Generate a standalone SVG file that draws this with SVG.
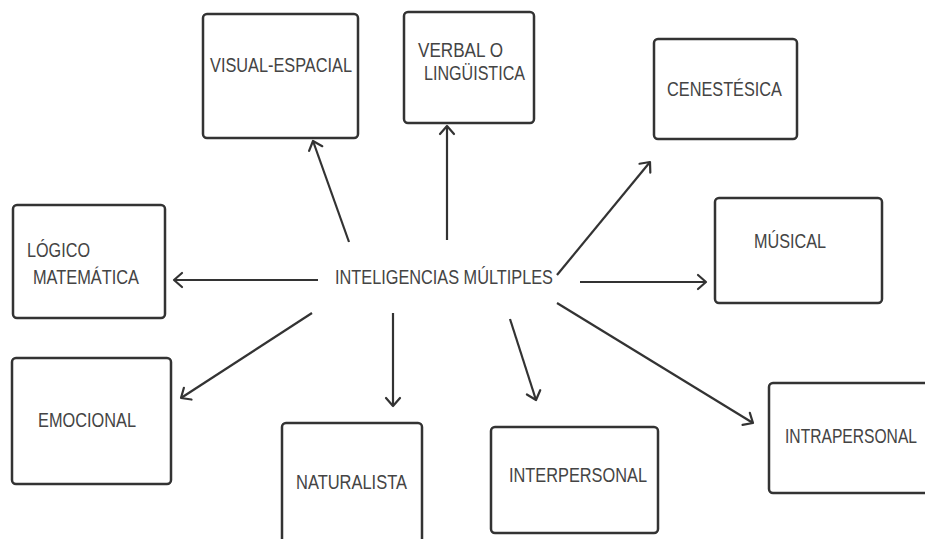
<svg xmlns="http://www.w3.org/2000/svg" width="925" height="539" viewBox="0 0 925 539">
<defs>
<marker id="arr" markerUnits="userSpaceOnUse" markerWidth="16" markerHeight="16" refX="11" refY="7" orient="auto" overflow="visible">
<path d="M3,0 L11,7 L3,14" fill="none" stroke="#333" stroke-width="2.2" stroke-linecap="round" stroke-linejoin="round"/>
</marker>
<style>
.box{fill:#fff;stroke:#333;stroke-width:2.5}
.t{font-family:"Liberation Sans",Arial,sans-serif;font-size:19.5px;fill:#444}
.c{stroke:#333;stroke-width:2.2;fill:none;marker-end:url(#arr)}
</style>
</defs>
<rect width="925" height="539" fill="#fff"/>
<g id="connectors">
<line class="c" x1="349" y1="242" x2="313" y2="141"/>
<line class="c" x1="447" y1="240" x2="447" y2="126"/>
<line class="c" x1="557" y1="275" x2="650" y2="162"/>
<line class="c" x1="580" y1="282" x2="706" y2="282"/>
<line class="c" x1="318" y1="280" x2="174" y2="280"/>
<line class="c" x1="312" y1="313" x2="181" y2="398"/>
<line class="c" x1="393" y1="313" x2="393" y2="406"/>
<line class="c" x1="510" y1="319" x2="536" y2="400"/>
<line class="c" x1="557" y1="303" x2="753" y2="423"/>
</g>
<g id="center">
<text class="t" x="335" y="284" textLength="218" lengthAdjust="spacingAndGlyphs">INTELIGENCIAS MÚLTIPLES</text>
</g>
<g id="visual">
<rect class="box" x="203" y="14" width="155" height="124" rx="4"/>
<text class="t" x="210" y="72" textLength="142" lengthAdjust="spacingAndGlyphs">VISUAL-ESPACIAL</text>
</g>
<g id="verbal">
<rect class="box" x="404" y="12" width="130" height="111" rx="4"/>
<text class="t" x="418" y="57" textLength="85" lengthAdjust="spacingAndGlyphs">VERBAL O</text>
<text class="t" x="424" y="80" textLength="101" lengthAdjust="spacingAndGlyphs">LINGÜISTICA</text>
</g>
<g id="cenestesica">
<rect class="box" x="654" y="39" width="143" height="100" rx="4"/>
<text class="t" x="667" y="96" textLength="115" lengthAdjust="spacingAndGlyphs">CENESTÉSICA</text>
</g>
<g id="musical">
<rect class="box" x="715" y="198" width="167" height="105" rx="4"/>
<text class="t" x="754" y="248" textLength="72" lengthAdjust="spacingAndGlyphs">MÚSICAL</text>
</g>
<g id="logico">
<rect class="box" x="13" y="205" width="152" height="113" rx="4"/>
<text class="t" x="27" y="257" textLength="63" lengthAdjust="spacingAndGlyphs">LÓGICO</text>
<text class="t" x="33" y="284" textLength="106" lengthAdjust="spacingAndGlyphs">MATEMÁTICA</text>
</g>
<g id="emocional">
<rect class="box" x="12" y="358" width="159" height="126" rx="4"/>
<text class="t" x="38" y="427" textLength="98" lengthAdjust="spacingAndGlyphs">EMOCIONAL</text>
</g>
<g id="naturalista">
<rect class="box" x="282" y="423" width="140" height="130" rx="4"/>
<text class="t" x="296" y="489" textLength="111" lengthAdjust="spacingAndGlyphs">NATURALISTA</text>
</g>
<g id="interpersonal">
<rect class="box" x="491" y="427" width="167" height="106" rx="4"/>
<text class="t" x="509" y="482" textLength="138" lengthAdjust="spacingAndGlyphs">INTERPERSONAL</text>
</g>
<g id="intrapersonal">
<rect class="box" x="769" y="383" width="170" height="110" rx="4"/>
<text class="t" x="785" y="443" textLength="132" lengthAdjust="spacingAndGlyphs">INTRAPERSONAL</text>
</g>
</svg>
